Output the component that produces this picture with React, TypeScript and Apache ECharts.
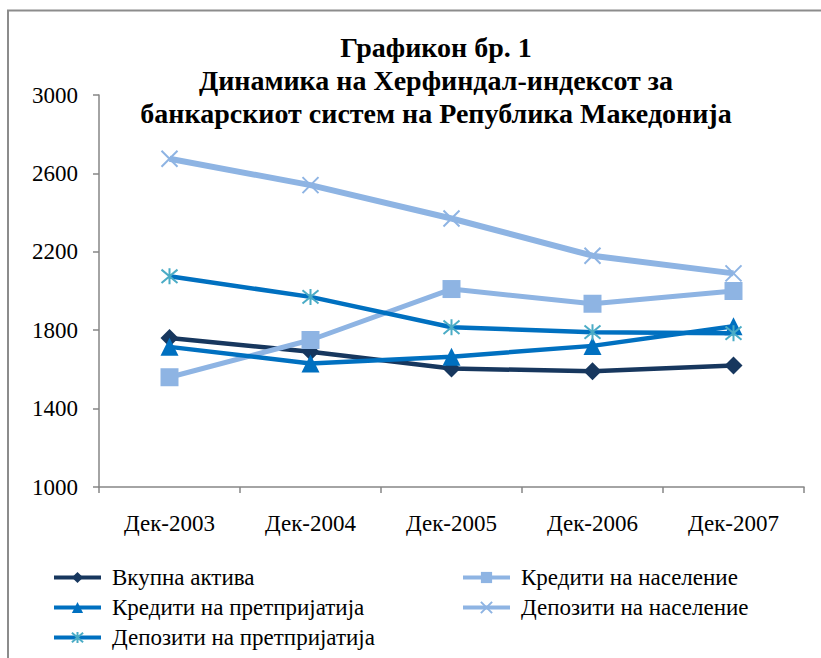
import React, { useEffect, useRef } from "react";
import * as echarts from "echarts";

const categories = ["Дек-2003", "Дек-2004", "Дек-2005", "Дек-2006", "Дек-2007"];
const vkupnaAktiva = [1760, 1690, 1605, 1590, 1620];
const kreditiNaselenie = [1560, 1750, 2010, 1935, 2000];
const kreditiPretprijatija = [1715, 1630, 1665, 1720, 1820];
const depozitiNaselenie = [2675, 2540, 2370, 2180, 2090];
const depozitiPretprijatija = [2075, 1970, 1815, 1790, 1785];
const seriesNames = [
  "Вкупна актива",
  "Кредити на население",
  "Кредити на претпријатија",
  "Депозити на население",
  "Депозити на претпријатија",
];
const titleText = "Графикон бр. 1\nДинамика на Херфиндал-индексот за\nбанкарскиот систем на Република Македонија";

const FONT = "'Liberation Serif', 'Times New Roman', serif";
const X_PATH = "path://M0 0L10 10M10 0L0 10";
const STAR_PATH = "path://M0 0L10 10M10 0L0 10M5 -1L5 11";

export default function App() {
  const ref = useRef<HTMLDivElement>(null);
  useEffect(() => {
    if (!ref.current) return;
    const chart = echarts.init(ref.current, undefined, { renderer: "svg" });
    const lbl = { fontFamily: FONT, fontSize: 23, color: "#000" };
    const legendCommon = {
      orient: "vertical",
      top: 566,
      height: 90,
      padding: 0,
      itemGap: 7,
      itemWidth: 47,
      itemHeight: 14,
      lineStyle: { width: 4 },
      textStyle: { ...lbl, padding: [0, 0, 0, 6] },
    };
    chart.setOption({
      animation: false,
      backgroundColor: "#fff",
      graphic: [
        {
          type: "rect",
          shape: { x: 8, y: 10.5, width: 900, height: 800 },
          style: { fill: "none", stroke: "#8c8c8c", lineWidth: 2 },
          silent: true,
        },
        {
          type: "text",
          x: 436,
          y: 31,
          style: {
            text: titleText,
            font: `bold 28px ${FONT}`,
            fill: "#000",
            textAlign: "center",
            textVerticalAlign: "top",
            lineHeight: 33,
          },
        },
      ],
      grid: { left: 99, top: 95, width: 705, height: 392, containLabel: false },
      xAxis: {
        type: "category",
        data: categories,
        boundaryGap: true,
        axisLine: { lineStyle: { color: "#868686", width: 1.5 } },
        axisTick: { show: true, length: 6, alignWithLabel: false, lineStyle: { color: "#868686", width: 1.5 } },
        axisLabel: { ...lbl, margin: 25 },
        splitLine: { show: false },
      },
      yAxis: {
        type: "value",
        min: 1000,
        max: 3000,
        interval: 400,
        axisLine: { show: true, lineStyle: { color: "#868686", width: 1.5 } },
        axisTick: { show: true, length: 6, lineStyle: { color: "#868686", width: 1.5 } },
        axisLabel: { ...lbl, margin: 21, formatter: (v: number) => String(v) },
        splitLine: { show: false },
      },
      legend: [
        { ...legendCommon, left: 52, data: [seriesNames[0], seriesNames[2], seriesNames[4]] },
        { ...legendCommon, left: 461, data: [seriesNames[1], seriesNames[3]] },
      ],
      series: [
        {
          name: seriesNames[0],
          type: "line",
          data: vkupnaAktiva,
          symbol: "diamond",
          symbolSize: 18,
          lineStyle: { color: "#17375E", width: 4.5 },
          itemStyle: { color: "#17375E" },
        },
        {
          name: seriesNames[1],
          type: "line",
          data: kreditiNaselenie,
          symbol: "rect",
          symbolSize: 18,
          lineStyle: { color: "#8EB4E3", width: 5 },
          itemStyle: { color: "#8EB4E3" },
        },
        {
          name: seriesNames[2],
          type: "line",
          data: kreditiPretprijatija,
          symbol: "triangle",
          symbolSize: 18,
          lineStyle: { color: "#0070C0", width: 4.5 },
          itemStyle: { color: "#0070C0" },
        },
        {
          name: seriesNames[3],
          type: "line",
          data: depozitiNaselenie,
          symbol: X_PATH,
          symbolSize: 16,
          lineStyle: { color: "#8EB4E3", width: 6 },
          itemStyle: { color: "#8EB4E3", borderColor: "#8EB4E3", borderWidth: 2 },
        },
        {
          name: seriesNames[4],
          type: "line",
          data: depozitiPretprijatija,
          symbol: STAR_PATH,
          symbolSize: 16,
          lineStyle: { color: "#0070C0", width: 4.5 },
          itemStyle: { color: "#4BACC6", borderColor: "#4BACC6", borderWidth: 2 },
        },
      ],
    });
    return () => chart.dispose();
  }, []);
  return (
    <div
      ref={ref}
      style={{ position: "absolute", left: 0, top: 0, width: 821, height: 658, background: "#fff" }}
    />
  );
}
